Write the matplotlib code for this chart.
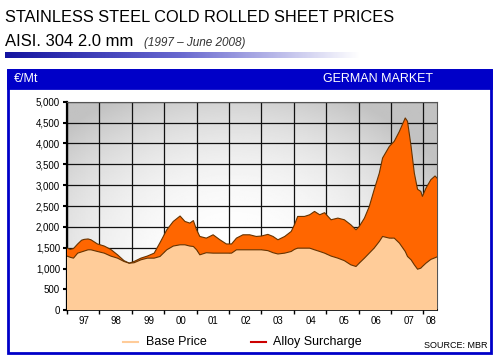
import numpy as np
import matplotlib.pyplot as plt
from matplotlib.patches import Rectangle
from matplotlib.colors import LinearSegmentedColormap
from matplotlib.ticker import FuncFormatter

plt.rcParams['font.family'] = ['Liberation Sans', 'DejaVu Sans']

# Data (EUR/t)
years = [1997.00, 1997.10, 1997.20, 1997.33, 1997.45, 1997.53, 1997.65, 1997.74,
         1997.94, 1998.15, 1998.35, 1998.56, 1998.76, 1998.92, 1999.07, 1999.28,
         1999.48, 1999.69, 1999.87, 2000.08, 2000.28, 2000.49, 2000.64, 2000.79,
         2000.90, 2001.00, 2001.10, 2001.30, 2001.51, 2001.72, 2001.92, 2002.08,
         2002.23, 2002.43, 2002.64, 2002.84, 2003.00, 2003.20, 2003.36, 2003.51,
         2003.72, 2003.92, 2004.02, 2004.12, 2004.33, 2004.49, 2004.64, 2004.80,
         2004.95, 2005.15, 2005.36, 2005.56, 2005.76, 2005.92, 2006.02, 2006.18,
         2006.33, 2006.48, 2006.64, 2006.74, 2006.95, 2007.10, 2007.26, 2007.44,
         2007.51, 2007.62, 2007.72, 2007.82, 2007.92, 2007.97, 2008.08, 2008.23,
         2008.36, 2008.42]
total = [1490, 1460, 1480, 1590, 1680, 1700, 1710, 1690,
         1590, 1540, 1460, 1330, 1190, 1130, 1170, 1250,
         1300, 1370, 1620, 1930, 2130, 2260, 2130, 2090,
         2150, 1930, 1770, 1730, 1810, 1690, 1590, 1590,
         1730, 1810, 1810, 1770, 1780, 1820, 1770, 1690,
         1770, 1890, 2050, 2250, 2250, 2290, 2370, 2290,
         2340, 2170, 2210, 2170, 2050, 1930, 2010, 2210,
         2490, 2890, 3290, 3650, 3930, 4050, 4290, 4610,
         4530, 3930, 3290, 2900, 2850, 2730, 2930, 3130,
         3220, 3170]
base = [1300, 1270, 1250, 1370, 1400, 1420, 1450, 1450,
        1410, 1370, 1300, 1250, 1170, 1130, 1140, 1210,
        1250, 1250, 1290, 1450, 1540, 1570, 1570, 1540,
        1530, 1450, 1330, 1380, 1370, 1370, 1370, 1370,
        1450, 1450, 1450, 1450, 1450, 1430, 1380, 1350,
        1370, 1410, 1460, 1490, 1490, 1490, 1450, 1410,
        1370, 1300, 1250, 1190, 1090, 1050, 1130, 1250,
        1370, 1490, 1650, 1770, 1730, 1730, 1610, 1410,
        1290, 1210, 1090, 985, 1010, 1050, 1130, 1220,
        1260, 1280]
surcharge = [t - b for t, b in zip(total, base)]

year_labels = ['97', '98', '99', '00', '01', '02', '03', '04', '05', '06', '07', '08']
year_label_pos = [1997.52, 1998.52, 1999.52, 2000.52, 2001.52, 2002.52, 2003.52,
                  2004.52, 2005.55, 2006.55, 2007.55, 2008.24]

W, H = 500, 358
fig = plt.figure(figsize=(5, 3.58), dpi=100)

def fx(px):
    return px / W

def fy(py):
    return 1 - py / H

# titles
fig.text(fx(5), fy(17), 'STAINLESS STEEL COLD ROLLED SHEET PRICES', fontsize=11.8,
         va='center', ha='left', color='black')
fig.text(fx(5), fy(42), 'AISI. 304 2.0 mm', fontsize=12, va='center', ha='left')
fig.text(fx(144), fy(43), '(1997 \u2013 June 2008)', fontsize=8.5, style='italic',
         va='center', ha='left', color='#333333')

# gradient bar under the title
bar_ax = fig.add_axes([fx(5), fy(58), fx(360) - fx(5), fy(52) - fy(58)])
bar_cmap = LinearSegmentedColormap.from_list('bar', ['#1414a0', '#6a6ad0', '#ffffff'])
bar_ax.imshow(np.linspace(0, 1, 256)[None, :], aspect='auto', cmap=bar_cmap)
bar_ax.axis('off')

# blue frame and header
fig.patches.append(Rectangle((fx(8), fy(353)), fx(491) - fx(8), fy(70) - fy(353),
                             transform=fig.transFigure, fill=False,
                             edgecolor='#0000c8', lw=2, zorder=0))
fig.patches.append(Rectangle((fx(8), fy(88)), fx(491) - fx(8), fy(70) - fy(88),
                             transform=fig.transFigure, facecolor='#0000c8',
                             edgecolor='#0000c8', lw=2, zorder=0))
fig.text(fx(14), fy(79), '\u20ac/Mt', color='white', fontsize=9, va='center', ha='left')
fig.text(fx(433), fy(79), 'GERMAN MARKET', color='white', fontsize=9, va='center', ha='right')

# main plot
ax = fig.add_axes([fx(67), fy(310.3), fx(437) - fx(67), fy(101.7) - fy(310.3)])
x0, x1 = 1997.0, 2008.42
ax.set_xlim(x0, x1)
ax.set_ylim(0, 5000)

# light grey radial background, white towards the lower middle
gx, gy = np.meshgrid(np.linspace(0, 1, 200), np.linspace(0, 1, 200))
r = np.sqrt(((gx - 0.45) / 0.6) ** 2 + ((gy - 0.25) / 0.8) ** 2)
bg = np.clip(1 - 0.2 * r ** 2.2, 0.76, 1)
ax.imshow(bg, extent=[x0, x1, 0, 5000], origin='lower', aspect='auto',
          cmap='gray', vmin=0, vmax=1, zorder=0)

ax.stackplot(years, base, surcharge, colors=['#ffcc99', '#ff6600'], zorder=3)
ax.plot(years, base, color='#663300', lw=0.8, zorder=4)
ax.plot(years, total, color='#663300', lw=0.8, zorder=4)

ax.set_yticks(np.arange(0, 5001, 500))
ax.yaxis.set_major_formatter(FuncFormatter(lambda v, p: f'{int(v):,}'))
ax.set_xticks(np.arange(1997, 2009))
ax.set_xticklabels([])
ax.set_xticks(year_label_pos, minor=True)
ax.set_xticklabels(year_labels, minor=True)
ax.tick_params(axis='x', which='minor', length=0, labelsize=7, pad=4)
ax.tick_params(axis='x', which='major', length=3, direction='out', width=1)
ax.tick_params(axis='y', length=3, direction='out', labelsize=7, pad=2, width=1.5)
ax.grid(True, which='major', color='#111111', lw=0.9, zorder=1)
ax.set_axisbelow(True)
for s in ['top', 'right']:
    ax.spines[s].set_color('#555555')
    ax.spines[s].set_linewidth(0.8)
ax.spines['left'].set_linewidth(1.6)
ax.spines['bottom'].set_linewidth(1.2)

# legend
fig.lines.append(plt.Line2D([fx(123), fx(138)], [fy(342), fy(342)], color='#ffcc99',
                            lw=1.5, transform=fig.transFigure))
fig.text(fx(146), fy(342), 'Base Price', fontsize=9, va='center', ha='left')
fig.lines.append(plt.Line2D([fx(251), fx(266)], [fy(342), fy(342)], color='#cc0000',
                            lw=1.5, transform=fig.transFigure))
fig.text(fx(273), fy(342), 'Alloy Surcharge', fontsize=9, va='center', ha='left')
fig.text(fx(487), fy(346), 'SOURCE: MBR', fontsize=6.5, va='center', ha='right')

fig.savefig('out.png', dpi=100)
